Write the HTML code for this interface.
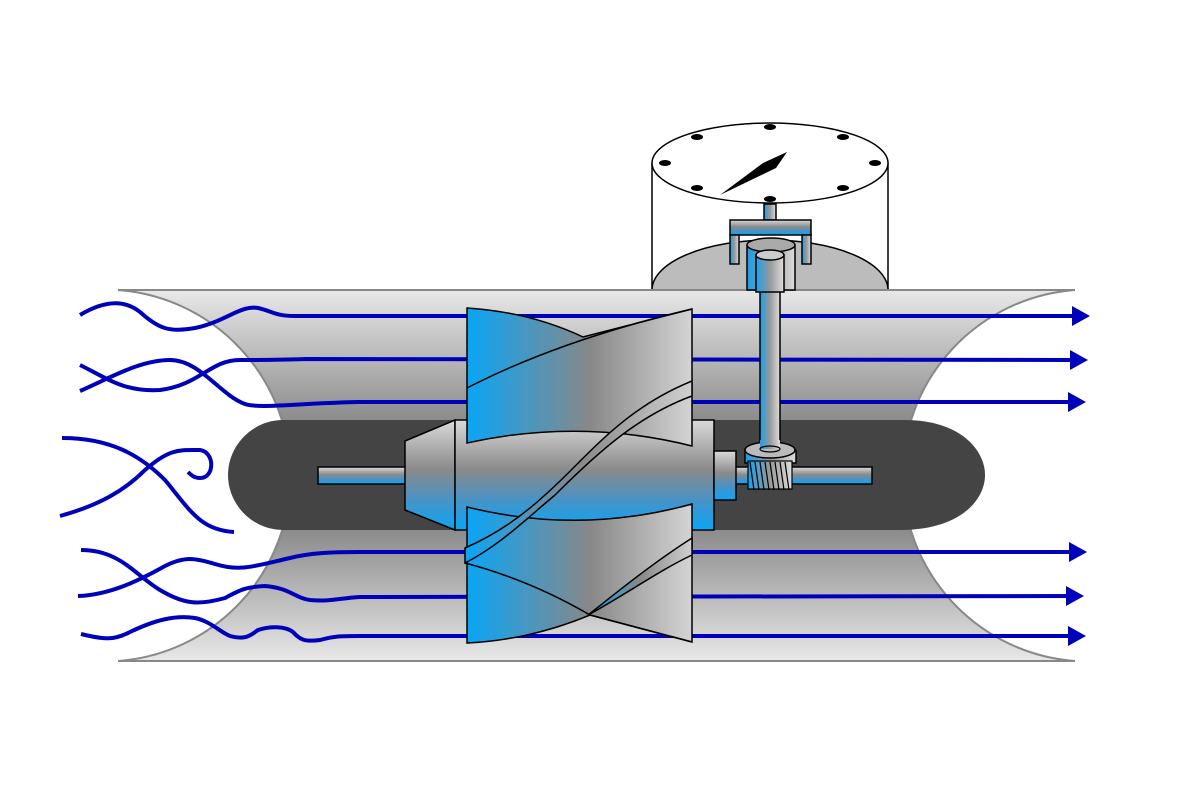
<!DOCTYPE html>
<html><head><meta charset="utf-8"><style>html,body{margin:0;padding:0;background:#fff}svg{display:block}</style></head><body>
<svg width="1180" height="790" viewBox="0 0 1180 790" xmlns="http://www.w3.org/2000/svg">
<defs>
<linearGradient id="pipe" x1="0" y1="290" x2="0" y2="661" gradientUnits="userSpaceOnUse">
<stop offset="0" stop-color="#e8e8e8"/><stop offset="0.35" stop-color="#8c8c8c"/><stop offset="0.65" stop-color="#8c8c8c"/><stop offset="1" stop-color="#e8e8e8"/></linearGradient>
<linearGradient id="vg" x1="0" y1="0" x2="0" y2="1">
<stop offset="0" stop-color="#dadada"/><stop offset="0.45" stop-color="#8a8a8a"/><stop offset="0.72" stop-color="#4a92c4"/><stop offset="1" stop-color="#0aa5f5"/></linearGradient>
<linearGradient id="hg" x1="0" y1="0" x2="1" y2="0">
<stop offset="0" stop-color="#0aa5f5"/><stop offset="0.55" stop-color="#888"/><stop offset="1" stop-color="#d4d4d4"/></linearGradient>
<linearGradient id="hg2" x1="0" y1="0" x2="1" y2="0">
<stop offset="0" stop-color="#0aa5f5"/><stop offset="0.5" stop-color="#888"/><stop offset="1" stop-color="#d0d0d0"/></linearGradient>
<linearGradient id="sh" x1="0" y1="0" x2="1" y2="0">
<stop offset="0" stop-color="#1aa0ea"/><stop offset="0.5" stop-color="#999"/><stop offset="1" stop-color="#ddd"/></linearGradient>
</defs>
<!-- gauge back -->
<path d="M652,163 L652,290 L888,290 L888,163" fill="#fff" stroke="#000" stroke-width="1.5"/>
<ellipse cx="770" cy="290" rx="118" ry="50" fill="#bcbcbc" stroke="#000" stroke-width="1.5"/>
<!-- pipe -->
<rect x="118" y="290" width="957" height="371" fill="url(#pipe)"/>
<path d="M118,290 A186,186 0 0 1 118,661 Z" fill="#fff"/>
<path d="M1075,290 A186,186 0 0 0 1075,661 Z" fill="#fff"/>
<path d="M118,290 A186,186 0 0 1 118,661 M1075,290 A186,186 0 0 0 1075,661" fill="none" stroke="#888" stroke-width="2"/>
<line x1="118" y1="290" x2="1075" y2="290" stroke="#888" stroke-width="2"/>
<line x1="118" y1="661" x2="1075" y2="661" stroke="#888" stroke-width="2"/>
<!-- flow lines -->
<g fill="none" stroke="#0000bb" stroke-width="4">
<path d="M80,315 C105,300 125,300 140,312 C160,330 170,332 195,328 C225,322 240,305 258,308 C272,311 275,316 295,316 L1075,316"/>
<path d="M80,365 C110,380 125,392 160,390 C200,385 210,360 240,360 C260,360 280,360 305,359 L1075,360"/>
<path d="M80,391 C110,378 140,360 170,360 C200,360 220,395 245,404 C260,409 300,403 360,402 L1075,402"/>
<path d="M62,438 C110,438 140,455 165,480 C190,510 200,530 234,532"/>
<path d="M60,516 C100,505 125,490 145,470 C170,448 180,450 200,450 C215,452 215,478 200,478 C195,478 192,476 188,472"/>
<path d="M81,550 C120,550 135,575 160,590 C185,605 200,605 225,598 C240,590 245,587 265,586 C290,588 295,598 310,600 C330,602 340,598 360,597 L1075,596"/>
<path d="M78,596 C110,595 140,580 165,566 C185,556 195,558 215,564 C240,572 255,566 290,558 C310,553 330,552 360,552 L1075,552"/>
<path d="M81,634 C105,640 115,640 130,632 C155,620 175,615 195,618 C210,621 220,632 230,636 C245,640 250,636 258,630 C270,626 285,626 293,632 C300,640 305,642 320,640 C335,636 340,636 360,636 L1075,636"/>
</g>
<g fill="#0000bb">
<polygon points="1072,306 1090,316 1072,326"/>
<polygon points="1070,350 1088,360 1070,370"/>
<polygon points="1068,392 1086,402 1068,412"/>
<polygon points="1069,542 1087,552 1069,562"/>
<polygon points="1066,586 1084,596 1066,606"/>
<polygon points="1068,626 1086,636 1068,646"/>
</g>
<!-- central body -->
<path d="M283,420 L905,420 C960,420 985,450 985,475 C985,500 960,530 900,530 L283,530 C253,530 228,505 228,475 C228,445 253,420 283,420 Z" fill="#444"/>
<!-- shaft -->
<rect x="318" y="467" width="554" height="17" fill="url(#vg)" stroke="#000" stroke-width="1.5"/>
<!-- cone -->
<polygon points="405,441 455,420 455,530 405,510" fill="url(#vg)" stroke="#000" stroke-width="1.5"/>
<rect x="455" y="420" width="259" height="110" fill="url(#vg)" stroke="#000" stroke-width="1.5"/>
<rect x="714" y="451" width="22" height="49" fill="url(#vg)" stroke="#000" stroke-width="1.5"/>
<!-- top blade -->
<path d="M467,308 Q530,312 583,337 L692,309 L692,446 Q580,418 467,443 Z" fill="url(#hg)" stroke="#000" stroke-width="1.5"/>
<path d="M467,388 Q560,340 692,309" fill="none" stroke="#000" stroke-width="1.5"/>
<!-- bottom blade -->
<path d="M467,507 Q580,535 692,504 L692,642 L590,615 Q530,640 467,643 Z" fill="url(#hg)" stroke="#000" stroke-width="1.5"/>
<path d="M465,563 Q530,580 590,615 L692,642" fill="none" stroke="#000" stroke-width="1.5"/>
<path d="M692,538 C650,565 620,590 588,615 C625,595 660,570 692,555 Z" fill="url(#hg2)" stroke="#000" stroke-width="1.5"/>
<!-- twisted band -->
<path d="M692,381 C620,410 585,460 545,495 C520,518 495,535 465,548 L465,563 C500,545 525,520 555,495 C600,450 640,415 692,396 Z" fill="url(#hg2)" stroke="#000" stroke-width="1.5"/>
<!-- vertical shaft -->
<rect x="760" y="255" width="20" height="195" fill="url(#sh)" stroke="#000" stroke-width="1.5"/>
<!-- gear -->
<path d="M745,450 L745,463 L796,463 L796,450" fill="url(#sh)" stroke="#000" stroke-width="1.5"/>
<ellipse cx="770" cy="450" rx="25" ry="8" fill="#bbb" stroke="#000" stroke-width="1.5"/>
<rect x="760" y="440" width="20" height="9" fill="url(#sh)"/>
<ellipse cx="770" cy="449" rx="10" ry="3" fill="none" stroke="#000" stroke-width="1.2"/>
<rect x="748" y="461" width="44" height="28" fill="url(#sh)" stroke="#000" stroke-width="1.2"/>
<g stroke="#000" stroke-width="1.2">
<line x1="750" y1="462" x2="754" y2="490"/><line x1="755" y1="462" x2="759" y2="490"/><line x1="760" y1="462" x2="764" y2="490"/><line x1="765" y1="462" x2="769" y2="490"/><line x1="770" y1="462" x2="774" y2="490"/><line x1="775" y1="462" x2="779" y2="490"/><line x1="780" y1="462" x2="784" y2="490"/><line x1="785" y1="462" x2="789" y2="490"/>
</g>
<!-- collar and cylinder in gauge -->
<path d="M747,245 L747,290 L795,290 L795,245" fill="url(#sh)" stroke="#000" stroke-width="1.5"/>
<ellipse cx="771" cy="245" rx="24" ry="7" fill="#aaa" stroke="#000" stroke-width="1.5"/>
<path d="M756,255 L756,292 L784,292 L784,255" fill="url(#sh)" stroke="#000" stroke-width="1.5"/>
<ellipse cx="770" cy="255" rx="14" ry="5" fill="#ccc" stroke="#000" stroke-width="1.5"/>
<!-- bracket -->
<rect x="764" y="204" width="12" height="16" fill="url(#sh)" stroke="#000" stroke-width="1.5"/>
<rect x="730" y="220" width="81" height="15" fill="url(#vg)" stroke="#000" stroke-width="1.5"/>
<rect x="730" y="235" width="9" height="29" fill="url(#sh)" stroke="#000" stroke-width="1.5"/>
<rect x="802" y="235" width="9" height="29" fill="url(#sh)" stroke="#000" stroke-width="1.5"/>
<!-- dial -->
<ellipse cx="770" cy="163" rx="118" ry="40" fill="#fff" stroke="#000" stroke-width="1.5"/>
<g fill="#000">
<ellipse cx="770" cy="127" rx="6" ry="3"/><ellipse cx="697" cy="137" rx="6" ry="3"/><ellipse cx="843" cy="137" rx="6" ry="3"/>
<ellipse cx="665" cy="163" rx="6" ry="3"/><ellipse cx="875" cy="163" rx="6" ry="3"/>
<ellipse cx="697" cy="188" rx="6" ry="3"/><ellipse cx="843" cy="188" rx="6" ry="3"/><ellipse cx="770" cy="199" rx="6" ry="3"/>
<polygon points="720,195 763,163 787,152 776,168"/>
</g>
</svg>
</body></html>
